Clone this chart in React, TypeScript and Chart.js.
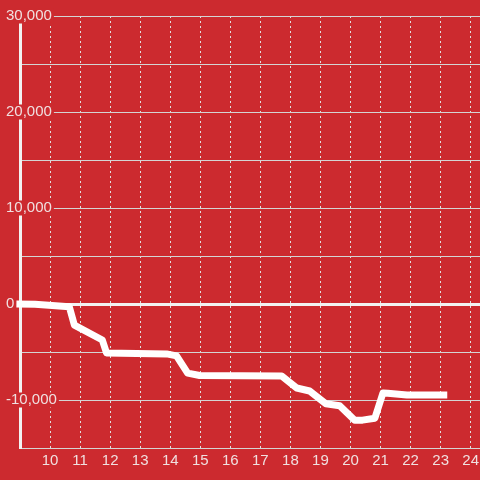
import React, { useEffect, useRef } from "react";
import { Chart, registerables } from "chart.js";

Chart.register(...registerables);

const hours = [8.88, 9.5, 10.64, 10.81, 11.74, 11.88, 13.88, 14.21, 14.58, 14.98, 17.71, 18.21, 18.64, 19.18, 19.64, 20.14, 20.4, 20.81, 21.08, 21.24, 21.88, 23.22];
const balance = [0, -30, -280, -2200, -3750, -5100, -5200, -5400, -7200, -7450, -7500, -8750, -9060, -10400, -10600, -12100, -12100, -11900, -9270, -9300, -9480, -9480];
const xTicks = [10, 11, 12, 13, 14, 15, 16, 17, 18, 19, 20, 21, 22, 23, 24];
const yMin = -15000;
const yMax = 30000;
const yStep = 5000;
const yLabelStep = 10000;

const RED = "#cc2a2f";
const TEXT = "#f0e0e0";

export default function App() {
  const ref = useRef<HTMLCanvasElement | null>(null);
  useEffect(() => {
    if (!ref.current) return;
    const chart = new Chart(ref.current, {
      type: "line",
      data: {
        datasets: [
          {
            data: hours.map((h, i) => ({ x: h, y: balance[i] })),
            borderColor: "#ffffff",
            borderWidth: 7,
            pointRadius: 0,
            tension: 0,
            borderJoinStyle: "round",
            clip: false as any,
          },
        ],
      },
      options: {
        animation: false,
        responsive: true,
        maintainAspectRatio: false,
        layout: { padding: { left: 6, top: 16, right: 0, bottom: 0 } },
        plugins: { legend: { display: false }, tooltip: { enabled: false } },
        scales: {
          x: {
            type: "linear",
            min: 9,
            max: 24.31,
            afterBuildTicks: (s: any) => {
              s.ticks = xTicks.map((v) => ({ value: v }));
            },
            afterFit: (s: any) => {
              s.height = 32;
              s.paddingLeft = 0;
              s.paddingRight = 0;
            },
            grid: { color: "#e0e0e0", lineWidth: 1, drawTicks: false },
            border: { display: false, dash: [2, 3] },
            ticks: {
              color: TEXT,
              padding: 5,
              maxRotation: 0,
              autoSkip: false,
              font: { family: "'Liberation Sans', Arial, sans-serif", size: 15, lineHeight: 1 },
            },
          },
          y: {
            type: "linear",
            min: yMin,
            max: yMax,
            afterFit: (s: any) => {
              s.width = 14;
            },
            grid: {
              drawTicks: false,
              color: (c: any) => (c.tick && c.tick.value === 0 ? "#f2f2f2" : "#d4d4d4"),
              lineWidth: (c: any) => (c.tick && c.tick.value === 0 ? 3 : 1),
            },
            border: { display: true, color: "#f2f2f2", width: 3 },
            ticks: {
              stepSize: yStep,
              color: TEXT,
              mirror: true,
              crossAlign: "near",
              padding: -14,
              autoSkip: false,
              showLabelBackdrop: true,
              backdropColor: (c: any) => (c.tick && c.tick.value % yLabelStep === 0 ? RED : "rgba(0,0,0,0)"),
              backdropPadding: { left: 2, right: 2, top: 0, bottom: 0 },
              font: { family: "'Liberation Sans', Arial, sans-serif", size: 15, lineHeight: 1 },
              callback: (v: any) => (Number(v) % yLabelStep === 0 ? Number(v).toLocaleString("en-US") : ""),
            },
          },
        },
      },
    });
    return () => chart.destroy();
  }, []);
  return (
    <div style={{ position: "fixed", left: 0, top: 0, width: 480, height: 480, background: RED }}>
      <canvas ref={ref} />
    </div>
  );
}
